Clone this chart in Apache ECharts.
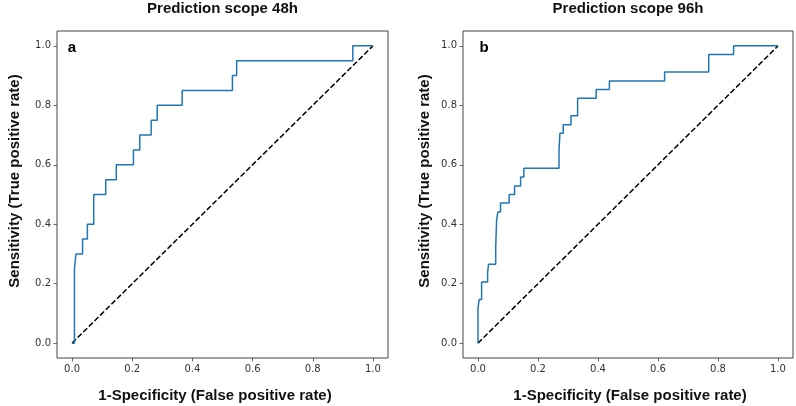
<!DOCTYPE html>
<html>
<head>
<meta charset="utf-8">
<script src="https://cdn.jsdelivr.net/npm/echarts@6/dist/echarts.min.js"></script>
<style>html,body{margin:0;padding:0;background:#fff}#c{width:796px;height:406px}</style>
</head>
<body>
<div id="c"></div>
<script>
// ROC corner points, panel a (Prediction scope 48h)
const fprA = [0, 0.008, 0.008, 0.013, 0.013, 0.035, 0.035, 0.051, 0.051, 0.072, 0.072, 0.112, 0.112, 0.147, 0.147, 0.204, 0.204, 0.225, 0.225, 0.263, 0.263, 0.283, 0.283, 0.366, 0.366, 0.533, 0.533, 0.547, 0.547, 0.933, 0.933, 1.0];
const tprA = [0, 0, 0.25, 0.25, 0.30, 0.30, 0.35, 0.35, 0.40, 0.40, 0.50, 0.50, 0.55, 0.55, 0.60, 0.60, 0.65, 0.65, 0.70, 0.70, 0.75, 0.75, 0.80, 0.80, 0.85, 0.85, 0.90, 0.90, 0.95, 0.95, 1.0, 1.0];
// ROC corner points, panel b (Prediction scope 96h)
const fprB = [0, 0, 0.004, 0.004, 0.012, 0.012, 0.032, 0.032, 0.035, 0.035, 0.059, 0.059, 0.062, 0.062, 0.066, 0.066, 0.075, 0.075, 0.104, 0.104, 0.122, 0.122, 0.142, 0.142, 0.153, 0.153, 0.270, 0.270, 0.273, 0.273, 0.284, 0.284, 0.310, 0.310, 0.332, 0.332, 0.394, 0.394, 0.438, 0.438, 0.622, 0.622, 0.769, 0.769, 0.852, 0.852, 1.0];
const tprB = [0, 0.118, 0.118, 0.147, 0.147, 0.206, 0.206, 0.235, 0.235, 0.265, 0.265, 0.324, 0.324, 0.412, 0.412, 0.441, 0.441, 0.471, 0.471, 0.500, 0.500, 0.529, 0.529, 0.559, 0.559, 0.588, 0.588, 0.647, 0.647, 0.706, 0.706, 0.735, 0.735, 0.765, 0.765, 0.824, 0.824, 0.853, 0.853, 0.882, 0.882, 0.912, 0.912, 0.971, 0.971, 1.0, 1.0];
// chance diagonal
const diagX = [0, 1];
const diagY = [0, 1];
const tickValues = [0, 0.2, 0.4, 0.6, 0.8, 1.0];
const panelTitles = ['Prediction scope 48h', 'Prediction scope 96h'];
const panelLetters = ['a', 'b'];
const xTitle = '1-Specificity (False positive rate)';
const yTitle = 'Sensitivity (True positive rate)';

const zip = (xs, ys) => xs.map((x, i) => [x, ys[i]]);
const chart = echarts.init(document.getElementById('c'), null, {renderer: 'canvas'});

const grids = [
  {left: 57, top: 31, width: 331, height: 327},
  {left: 463, top: 31, width: 330, height: 327}
];
const frame = '#444';
function axis(gi) {
  return {
    type: 'value', gridIndex: gi, min: -0.05, max: 1.05,
    splitLine: {show: false},
    axisLine: {show: false, onZero: false},
    axisTick: {show: true, customValues: tickValues, length: 3.5, lineStyle: {color: frame, width: 0.8}},
    axisLabel: {show: true, customValues: tickValues, margin: 6,
      formatter: v => v.toFixed(1),
      fontFamily: 'DejaVu Sans', fontSize: 10, color: '#333'}
  };
}
const series = [];
[[fprA, tprA], [fprB, tprB]].forEach((d, i) => {
  series.push({type: 'line', xAxisIndex: i, yAxisIndex: i, data: zip(diagX, diagY),
    showSymbol: false, silent: true,
    lineStyle: {color: '#000', width: 1.5, type: [5.5, 2.4]}});
  series.push({type: 'line', xAxisIndex: i, yAxisIndex: i, data: zip(d[0], d[1]),
    showSymbol: false, silent: true,
    lineStyle: {color: '#1f77b4', width: 1.5}});
});

const bold = 'bold 15px "Liberation Sans", Arial, sans-serif';
const graphic = [];
const titleCx = [222.5, 628];
const xTitleCx = [215, 630];
const yTitleCx = [15, 425];
const letterX = [72, 484];
for (let i = 0; i < 2; i++) {
  graphic.push({type: 'text', style: {x: titleCx[i], y: 9, text: panelTitles[i], font: bold, fill: '#111', textAlign: 'center', textVerticalAlign: 'middle'}});
  graphic.push({type: 'text', style: {x: xTitleCx[i], y: 396, text: xTitle, font: bold, fill: '#111', textAlign: 'center', textVerticalAlign: 'middle'}});
  graphic.push({type: 'text', x: yTitleCx[i], y: 181, rotation: Math.PI / 2, style: {x: 0, y: 0, text: yTitle, font: bold, fill: '#111', textAlign: 'center', textVerticalAlign: 'middle'}});
  graphic.push({type: 'text', style: {x: letterX[i], y: 48, text: panelLetters[i], font: bold, fill: '#000', textAlign: 'center', textVerticalAlign: 'middle'}});
}

chart.setOption({
  animation: false,
  backgroundColor: '#fff',
  grid: grids.map(g => Object.assign({show: true, borderColor: frame, borderWidth: 1, backgroundColor: 'transparent', containLabel: false}, g)),
  xAxis: [axis(0), axis(1)],
  yAxis: [axis(0), axis(1)],
  series: series,
  graphic: graphic
});
</script>
</body>
</html>
